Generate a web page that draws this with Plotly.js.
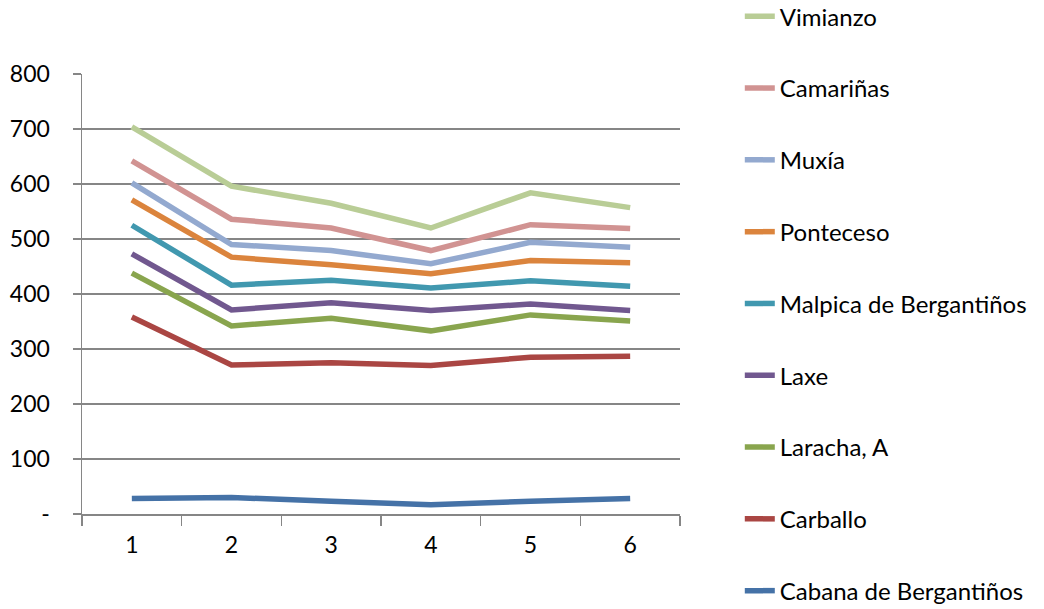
<!DOCTYPE html>
<html>
<head>
<meta charset="utf-8">
<script src="https://cdn.plot.ly/plotly-3.0.1.min.js"></script>
<style>html,body{margin:0;padding:0;background:#fff;}#chart{width:1044px;height:609px;}</style>
</head>
<body>
<div id="chart"></div>
<script>
const categories = ['1', '2', '3', '4', '5', '6'];
const seriesNames = ['Vimianzo', 'Camariñas', 'Muxía', 'Ponteceso', 'Malpica de Bergantiños', 'Laxe', 'Laracha, A', 'Carballo', 'Cabana de Bergantiños'];
const vimianzo = [704, 596, 565, 520, 584, 557];
const camarinas = [642, 536, 520, 479, 526, 519];
const muxia = [602, 490, 479, 455, 494, 485];
const ponteceso = [571, 467, 453, 437, 461, 457];
const malpica = [525, 416, 425, 411, 424, 414];
const laxe = [473, 371, 384, 370, 382, 370];
const laracha = [438, 342, 356, 333, 362, 351];
const carballo = [358, 271, 275, 270, 285, 287];
const cabana = [28, 30, 23, 17, 23, 28];
const yTickVals = [0, 100, 200, 300, 400, 500, 600, 700, 800];
const yTickText = ['-', '100', '200', '300', '400', '500', '600', '700', '800'];
const colors = ['#B9CD96', '#D19392', '#93A9CF', '#DB843D', '#4198AF', '#71588F', '#89A54E', '#AA4643', '#4572A7'];

const values = [vimianzo, camarinas, muxia, ponteceso, malpica, laxe, laracha, carballo, cabana];
const traces = values.map((v, i) => ({
  type: 'scatter', mode: 'lines', x: categories, y: v, name: seriesNames[i],
  legendgroup: 'g' + i,
  line: {color: colors[i], width: 5.5}
}));

const tickFont = {family: 'Lato, "Noto Sans", sans-serif', size: 23, color: '#000'};
const legendFont = {family: 'Lato, "Noto Sans", sans-serif', size: 24, color: '#000'};
const layout = {
  width: 1044, height: 609,
  margin: {l: 82, r: 364, t: 74, b: 95, autoexpand: false},
  paper_bgcolor: '#fff', plot_bgcolor: '#fff',
  font: tickFont,
  showlegend: true,
  legend: {x: 1.1, xanchor: 'left', y: 1.1815, yanchor: 'top', traceorder: 'grouped', tracegroupgap: 37.6, maxheight: 800,
           font: legendFont, bgcolor: 'rgba(0,0,0,0)'},
  xaxis: {type: 'category', range: [-0.5, 5.5], tickson: 'boundaries', ticks: 'outside', ticklen: 10, tickcolor: '#868686', tickwidth: 1.5,
          showline: true, linecolor: '#868686', linewidth: 1.5, showgrid: false, ticklabelstandoff: 10, tickfont: tickFont, fixedrange: true},
  yaxis: {range: [0, 800], tickvals: yTickVals, ticktext: yTickText, ticks: 'outside', ticklen: 8, tickcolor: '#868686', tickwidth: 1.5,
          showline: true, linecolor: '#868686', linewidth: 1.5, showgrid: true, gridcolor: '#868686', gridwidth: 1.5,
          zeroline: false, ticklabelstandoff: 18, tickfont: tickFont, fixedrange: true}
};
Plotly.newPlot('chart', traces, layout, {displayModeBar: false, staticPlot: true});
</script>
</body>
</html>
